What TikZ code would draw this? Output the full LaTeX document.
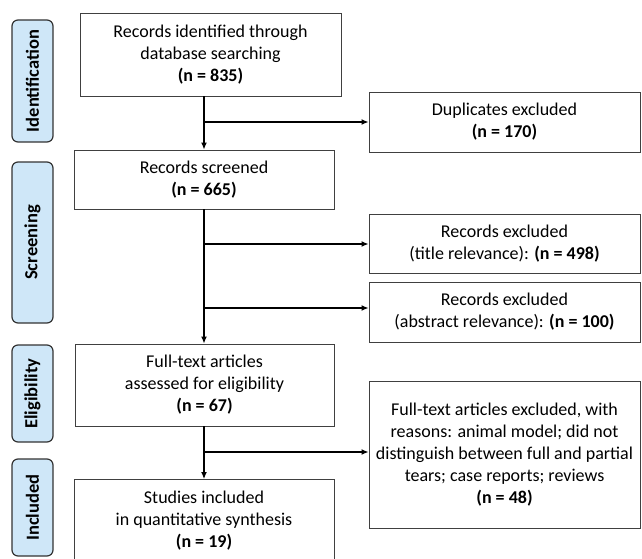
\documentclass[tikz,border=0pt]{standalone}
\usepackage{fontspec}
\setmainfont{Carlito}
\usetikzlibrary{arrows.meta}

\definecolor{StageFill}{RGB}{207,231,248}
\colorlet{BoxBorder}{black!75}
\colorlet{StageBorder}{black!80}

\tikzset{
  flowbox/.style={draw=BoxBorder, line width=0.9pt, align=center, inner sep=0pt,
    font=\fontsize{18}{22}\selectfont},
  stagebox/.style={draw=StageBorder, fill=StageFill, rounded corners=6pt, line width=1.2pt,
    inner sep=0pt, rotate=90, minimum height=41pt, font=\fontsize{18.5}{22}\selectfont\bfseries},
  flowarrow/.style={line width=1.3pt, -{Latex[length=7pt,width=6pt]}},
}

\begin{document}
\begin{tikzpicture}[x=1pt, y=-1pt]

    \useasboundingbox (0, 0) rectangle (642, 559);

    % stages
    \node[stagebox, minimum width=122pt] (ident) at (32.5, 81)    {Identification};
    \node[stagebox, minimum width=161pt] (screen) at (32.5, 242.5) {Screening};
    \node[stagebox, minimum width=97pt]  (elig) at (32.5, 393.5)  {Eligibility};
    \node[stagebox, minimum width=97pt]  (incl) at (32.5, 507.5)  {Included};

    % main column
    \node[flowbox, minimum width=261pt, minimum height=83pt] (identified) at (210.5, 54.5)
        {Records identified through\\database searching\\\textbf{(n = 835)}};
    \node[flowbox, minimum width=260pt, minimum height=59pt] (screened) at (204, 179.5)
        {Records screened\\\textbf{(n = 665)}};
    \node[flowbox, minimum width=259pt, minimum height=82pt] (assessed) at (204.5, 385)
        {Full-text articles\\assessed for eligibility\\\textbf{(n = 67)}};
    \node[flowbox, minimum width=260pt, minimum height=82pt] (included) at (204, 520.5)
        {Studies included\\in quantitative synthesis\\\textbf{(n = 19)}};

    % exclusions
    \node[flowbox, minimum width=271pt, minimum height=60pt] (duplicates) at (504.5, 122)
        {Duplicates excluded\\\textbf{(n = 170)}};
    \node[flowbox, minimum width=271pt, minimum height=59pt] (exTitle) at (504.5, 243.5)
        {Records excluded\\(title relevance): \textbf{(n = 498)}};
    \node[flowbox, minimum width=271pt, minimum height=60pt] (exAbstract) at (504.5, 312)
        {Records excluded\\(abstract relevance): \textbf{(n = 100)}};
    \node[flowbox, minimum width=271pt, minimum height=147pt] (exFullText) at (504.5, 454.5)
        {Full-text articles excluded, with\\reasons: animal model; did not\\distinguish between full and partial\\tears; case reports; reviews\\\textbf{(n = 48)}};

    % branch points
    \coordinate (B1) at (204, 122);
    \coordinate (B2) at (204, 244);
    \coordinate (B3) at (204, 308);
    \coordinate (B4) at (204, 452);

    \draw[flowarrow] (identified.south -| B1) -- (screened.north);
    \draw[flowarrow] (screened.south) -- (assessed.north -| B1);
    \draw[flowarrow] (assessed.south -| B1) -- (included.north -| B1);

    \draw[flowarrow] (B1) -- (B1 -| duplicates.west);
    \draw[flowarrow] (B2) -- (B2 -| exTitle.west);
    \draw[flowarrow] (B3) -- (B3 -| exAbstract.west);
    \draw[flowarrow] (B4) -- (B4 -| exFullText.west);
\end{tikzpicture}
\end{document}
